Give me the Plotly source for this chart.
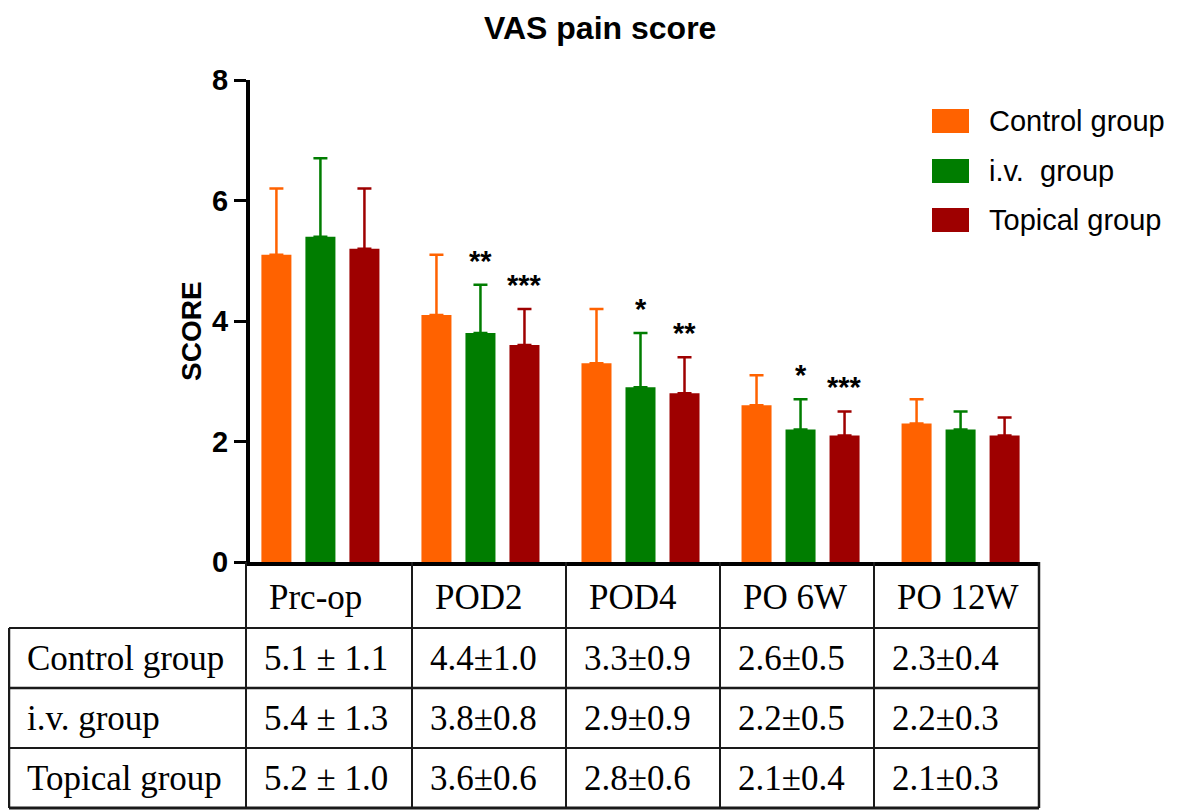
import plotly.graph_objects as go

# ---------------- data ----------------
categories = ["Prc-op", "POD2", "POD4", "PO 6W", "PO 12W"]
groups = ["Control group", "i.v.  group", "Topical group"]
colors = ["#FF6200", "#007D00", "#9E0000"]

control_mean = [5.1, 4.1, 3.3, 2.6, 2.3]
control_sd = [1.1, 1.0, 0.9, 0.5, 0.4]
iv_mean = [5.4, 3.8, 2.9, 2.2, 2.2]
iv_sd = [1.3, 0.8, 0.9, 0.5, 0.3]
topical_mean = [5.2, 3.6, 2.8, 2.1, 2.1]
topical_sd = [1.0, 0.6, 0.6, 0.4, 0.3]

# significance marks (per group, per category)
control_sig = ["", "", "", "", ""]
iv_sig = ["", "**", "*", "*", ""]
topical_sig = ["", "***", "**", "***", ""]

y_ticks = [0, 2, 4, 6, 8]

# table text
table_rows = ["Control group", "i.v. group", "Topical group"]
table_control = ["5.1 ± 1.1", "4.4±1.0", "3.3±0.9", "2.6±0.5", "2.3±0.4"]
table_iv = ["5.4 ± 1.3", "3.8±0.8", "2.9±0.9", "2.2±0.5", "2.2±0.3"]
table_topical = ["5.2 ± 1.0", "3.6±0.6", "2.8±0.6", "2.1±0.4", "2.1±0.3"]

means = [control_mean, iv_mean, topical_mean]
sds = [control_sd, iv_sd, topical_sd]
sigs = [control_sig, iv_sig, topical_sig]
table_vals = [table_control, table_iv, table_topical]

# ---------------- layout geometry (page pixels) ----------------
OFF = 8  # page body margin
PAGE_W, PAGE_H = 1181, 812
W, H = PAGE_W - OFF, PAGE_H - OFF
PL, PR, PT, PB = 250, 1039, 80, 562  # plot area on page
PW, PH = PR - PL, PB - PT
L, T = PL - OFF, PT - OFF
R = W - (PR - OFF)
B = H - (PB - OFF)


def px(xp):
    return (xp - PL) / PW


def py(yp):
    return (PB - yp) / PH


fig = go.Figure()
for g, name in enumerate(groups):
    fig.add_trace(go.Bar(
        x=categories, y=means[g], name=name,
        marker=dict(color=colors[g], line=dict(width=0)),
        error_y=dict(type="data", symmetric=False, array=sds[g],
                     arrayminus=[0] * len(categories),
                     color=colors[g], thickness=2.5, width=7),
        showlegend=False,
    ))

annotations = []
shapes = []

# significance asterisks
for g in range(3):
    for i, c in enumerate(categories):
        if sigs[g][i]:
            annotations.append(dict(
                x=c, y=means[g][i] + sds[g][i], xref="x", yref="y",
                xshift=(g - 1) * 44, yshift=24, text=sigs[g][i],
                showarrow=False, yanchor="middle",
                font=dict(family="Liberation Sans", size=29, color="black",
                          weight="bold")))

# title
annotations.append(dict(x=px(600), y=py(28), xref="paper", yref="paper",
                        text="VAS pain score", showarrow=False,
                        font=dict(family="Liberation Sans", size=32, color="black",
                                  weight="bold"),
                        xanchor="center", yanchor="middle"))
# y axis title
annotations.append(dict(x=px(191), y=py(331), xref="paper", yref="paper",
                        text="SCORE", showarrow=False, textangle=-90,
                        font=dict(family="Liberation Sans", size=28, color="black",
                                  weight="bold"),
                        xanchor="center", yanchor="middle"))

# manual legend
leg_y = [121, 171, 220]
for g, name in enumerate(groups):
    shapes.append(dict(type="rect", xref="paper", yref="paper",
                       x0=px(932), x1=px(969), y0=py(leg_y[g] - 12), y1=py(leg_y[g] + 12),
                       fillcolor=colors[g], line=dict(width=0)))
    annotations.append(dict(x=px(987), y=py(leg_y[g]), xref="paper", yref="paper",
                            text=name, showarrow=False, xanchor="left", yanchor="middle",
                            font=dict(family="Liberation Sans", size=29, color="black")))

# table
col_x = [9, 246, 412, 566, 720, 874, 1039]
row_y = [562, 628, 688, 748, 808]
tcol = "#1a1a1a"
hw = [None, 2, 2.5, 2, 3]
for k in range(1, 5):
    shapes.append(dict(type="line", xref="paper", yref="paper", x0=px(col_x[0]), x1=px(col_x[-1]),
                       y0=py(row_y[k]), y1=py(row_y[k]), line=dict(color=tcol, width=hw[k])))
shapes.append(dict(type="line", xref="paper", yref="paper", x0=px(col_x[0]), x1=px(col_x[0]),
                   y0=py(row_y[1]), y1=py(row_y[4]), line=dict(color=tcol, width=2.5)))
for k in range(1, len(col_x)):
    w = 2.5 if k == len(col_x) - 1 else 2
    shapes.append(dict(type="line", xref="paper", yref="paper", x0=px(col_x[k]), x1=px(col_x[k]),
                       y0=py(row_y[0]), y1=py(row_y[4]), line=dict(color=tcol, width=w)))

tfont = dict(family="Liberation Serif", size=35, color="black")
for i, c in enumerate(categories):
    annotations.append(dict(x=px(col_x[i + 1] + 21), y=py((row_y[0] + row_y[1]) / 2 + 2),
                            xref="paper", yref="paper", text=c, showarrow=False,
                            xanchor="left", yanchor="middle", font=tfont))
for r, name in enumerate(table_rows):
    yc = (row_y[r + 1] + row_y[r + 2]) / 2
    annotations.append(dict(x=px(25), y=py(yc), xref="paper", yref="paper",
                            text=name, showarrow=False, xanchor="left", yanchor="middle",
                            font=tfont))
    for i in range(len(categories)):
        annotations.append(dict(x=px(col_x[i + 1] + 16), y=py(yc), xref="paper", yref="paper",
                                text=table_vals[r][i], showarrow=False, xanchor="left",
                                yanchor="middle", font=tfont))

fig.update_layout(
    width=W, height=H,
    margin=dict(l=L, r=R, t=T, b=B, pad=0),
    paper_bgcolor="white", plot_bgcolor="white",
    barmode="group", bargap=0.175, bargroupgap=0.318,
    showlegend=False,
    xaxis=dict(range=[-0.44, 4.49], showticklabels=False, ticks="",
               showline=True, linecolor="black", linewidth=4, showgrid=False,
               zeroline=False),
    yaxis=dict(range=[0, 8], tickvals=y_ticks, ticks="outside", ticklen=12,
               tickwidth=3, tickcolor="black", showline=True, linecolor="black",
               linewidth=4, showgrid=False, zeroline=False,
               tickfont=dict(family="Liberation Sans", size=29, color="black",
                             weight="bold")),
    annotations=annotations, shapes=shapes,
)

fig.write_html("out.html")
